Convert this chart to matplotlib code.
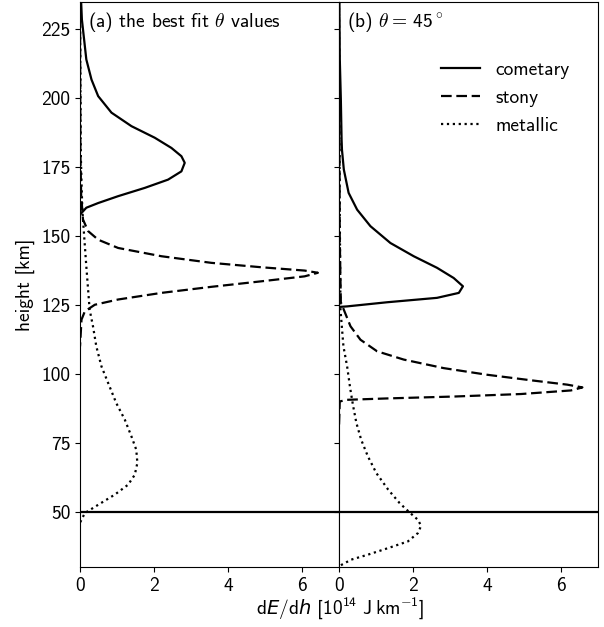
import matplotlib
matplotlib.use('Agg')
import matplotlib.pyplot as plt

plt.rcParams['font.family'] = ['cmss10', 'DejaVu Sans']
plt.rcParams['font.size'] = 14
plt.rcParams['axes.unicode_minus'] = False
plt.rcParams['mathtext.fontset'] = 'custom'
plt.rcParams['mathtext.rm'] = 'cmss10'
plt.rcParams['mathtext.it'] = 'DejaVu Sans:italic'

# (a) best fit theta -- heights [km] and dE/dh [1e14 J/km]
a_comet_h = [235, 228.6, 221.4, 214.1, 206.8, 200.8, 194.8, 189.9, 185.7, 182, 179, 176.6,
             173.5, 170.5, 167.5, 164.5, 162, 160.3, 158.4, 157.8]
a_comet_e = [0.03, 0.05, 0.11, 0.17, 0.31, 0.49, 0.85, 1.39, 2.02, 2.47, 2.74, 2.83,
             2.74, 2.38, 1.75, 1.03, 0.49, 0.17, 0.04, 0.0]

a_stony_h = [235, 180, 165, 156, 151.8, 148.7, 145.7, 142.7, 140.3, 138.7, 137.5, 136.7,
             135.4, 133.6, 131.6, 129.4, 127, 125.1, 122.7, 119.7, 110]
a_stony_e = [0.0, 0.01, 0.03, 0.08, 0.22, 0.49, 1.03, 2.2, 3.55, 4.9, 6.07, 6.43,
             6.07, 4.9, 3.55, 2.2, 1.03, 0.4, 0.13, 0.04, 0.0]

a_metal_h = [235, 180, 160, 156, 139, 123.3, 117.3, 110, 102.7, 96.7, 89.4, 83.4, 77.3, 72.5,
             67.7, 63.4, 59.8, 56.2, 52.5, 49.5, 47.1, 46]
a_metal_e = [0.0, 0.02, 0.06, 0.08, 0.17, 0.26, 0.35, 0.44, 0.58, 0.76, 0.98, 1.21, 1.39, 1.52,
             1.55, 1.48, 1.3, 0.94, 0.49, 0.13, 0.04, 0.0]

# (b) theta = 45 deg
b_comet_h = [235, 215, 199.6, 185, 181.4, 174.2, 165.7, 159.6, 153.6, 147.5, 142.7, 138.5,
             134.8, 131.8, 129.4, 127.6, 126, 124.5, 124.3]
b_comet_e = [0.01, 0.02, 0.05, 0.07, 0.08, 0.13, 0.26, 0.49, 0.85, 1.39, 2.02, 2.65,
             3.1, 3.35, 3.24, 2.65, 1.3, 0.22, 0.0]

b_stony_h = [235, 150, 126, 123.3, 117.3, 112.4, 108.2, 105.2, 102.1, 99.7, 97.7, 96.1, 95.1,
             94, 92.7, 91.8, 91.1, 90.6, 90, 85, 81]
b_stony_e = [0.0, 0.02, 0.05, 0.13, 0.31, 0.58, 1.03, 1.75, 2.83, 4.0, 5.18, 6.17, 6.58,
             6.27, 4.92, 3.13, 1.3, 0.22, 0.02, 0.01, 0.0]

b_metal_h = [235, 160, 123.3, 110, 102.7, 95, 88.5, 82.2, 76.1, 70.1, 64, 58, 53.1, 49.7, 47.1,
             44.9, 42.2, 39.2, 36.8, 34.4, 32.6, 30.8, 30]
b_metal_e = [0.0, 0.02, 0.04, 0.12, 0.22, 0.3, 0.38, 0.47, 0.6, 0.78, 1.01, 1.33, 1.64, 1.91, 2.13,
             2.22, 2.13, 1.86, 1.33, 0.78, 0.33, 0.08, 0.0]

fig, (ax1, ax2) = plt.subplots(1, 2, sharey=True, figsize=(6.04, 6.27), dpi=100)
plt.subplots_adjust(left=0.1325, right=0.99, top=0.997, bottom=0.096, wspace=0)

dash = (4.8, 2.1)
for ax, ce, ch, se, sh, me, mh in [(ax1, a_comet_e, a_comet_h, a_stony_e, a_stony_h, a_metal_e, a_metal_h),
                                   (ax2, b_comet_e, b_comet_h, b_stony_e, b_stony_h, b_metal_e, b_metal_h)]:
    ax.plot(ce, ch, color='k', ls='-', lw=1.6, label='cometary')
    ax.plot(se, sh, color='k', ls='--', dashes=dash, lw=1.6, label='stony')
    ax.plot(me, mh, color='k', ls=':', lw=1.6, label='metallic')
    ax.axhline(50, color='k', lw=1.6)
    ax.set_xlim(0, 7)
    ax.set_xticks([0, 2, 4, 6])

ax1.set_ylim(30, 235)
ax1.set_yticks([50, 75, 100, 125, 150, 175, 200, 225])
ax2.tick_params(labelleft=False)

ax1.set_ylabel('height [km]')
ax1.text(0.03, 0.985, r'(a) the best fit $\theta$ values', transform=ax1.transAxes,
         ha='left', va='top', math_fontfamily='cm')
ax2.text(0.03, 0.985, r'(b) $\theta =\,$45$^\circ$', transform=ax2.transAxes,
         ha='left', va='top', math_fontfamily='cm')

ax2.legend(loc='upper right', bbox_to_anchor=(0.96, 0.926), frameon=False)

fig.text(0.563, 0.01, r'd$E$/d$h$ [10$^{14}$ J$\,$km$^{-1}$]', ha='center', va='bottom')

plt.savefig('out.png', dpi=100)
